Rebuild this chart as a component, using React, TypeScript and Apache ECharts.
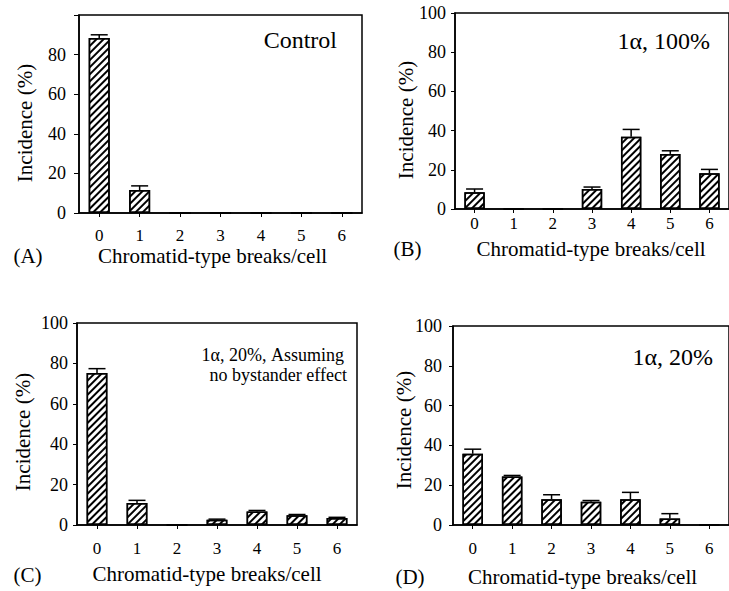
import React, { useEffect, useRef } from "react";
import * as echarts from "echarts";

const CATEGORIES = ["0", "1", "2", "3", "4", "5", "6"];
const Y_TICKS_MAX = 100;

// Panel A: Control
const A_VALUES = [88.4, 11.6, 0, 0, 0, 0, 0];
const A_ERR = [1.6, 2.1, 0, 0, 0, 0, 0];
// Panel B: 1α, 100%
const B_VALUES = [8.5, 0, 0, 10.2, 36.9, 28.1, 18.2];
const B_ERR = [1.7, 0, 0, 1.0, 3.7, 1.6, 2.0];
// Panel C: 1α, 20%, assuming no bystander effect
const C_VALUES = [75.2, 10.9, 0, 2.6, 6.7, 4.8, 3.5];
const C_ERR = [2.2, 1.3, 0, 0.3, 0.5, 0.4, 0.3];
// Panel D: 1α, 20%
const D_VALUES = [35.8, 24.4, 13.0, 11.7, 13.0, 3.3, 0];
const D_ERR = [2.3, 0.5, 2.2, 0.6, 3.4, 2.4, 0];

const X_TITLE = "Chromatid-type breaks/cell";
const Y_TITLE = "Incidence (%)";

const FONT = "Liberation Serif";

const PANELS = [
  {
    values: A_VALUES, err: A_ERR, hide100: true,
    grid: { left: 79, top: 15, width: 283, height: 198 },
    yMargin: 13, xMargin: 14, tickLen: 5,
  },
  {
    values: B_VALUES, err: B_ERR, hide100: false,
    grid: { left: 455, top: 13, width: 281, height: 196 },
    yMargin: 9, xMargin: 6, tickLen: 4,
  },
  {
    values: C_VALUES, err: C_ERR, hide100: false,
    grid: { left: 77, top: 323, width: 280, height: 202 },
    yMargin: 9, xMargin: 15, tickLen: 4,
  },
  {
    values: D_VALUES, err: D_ERR, hide100: false,
    grid: { left: 453, top: 326, width: 286, height: 199 },
    yMargin: 11, xMargin: 15, tickLen: 4,
  },
];

function txt(text: string, x: number, y: number, size: number, align = "center", rotation = 0) {
  return {
    type: "text",
    x,
    y,
    rotation,
    style: {
      text,
      fill: "#000",
      fontFamily: FONT,
      fontSize: size,
      textAlign: align,
      textVerticalAlign: "middle",
    },
  };
}

export default function App() {
  const ref = useRef<HTMLDivElement>(null);
  useEffect(() => {
    if (!ref.current) return;
    const chart = echarts.init(ref.current, null, { renderer: "svg" });

    const grids: any[] = [];
    const xAxes: any[] = [];
    const yAxes: any[] = [];
    const series: any[] = [];

    PANELS.forEach((p, i) => {
      grids.push({
        ...p.grid,
        show: true,
        borderColor: "#000",
        borderWidth: 1.5,
        backgroundColor: "transparent",
        containLabel: false,
      });
      xAxes.push({
        type: "category",
        gridIndex: i,
        data: CATEGORIES,
        axisLine: { show: true, lineStyle: { color: "#000", width: 1.5 } },
        axisTick: { show: true, alignWithLabel: true, length: 4, lineStyle: { color: "#000", width: 1 } },
        axisLabel: { color: "#000", fontFamily: FONT, fontSize: 17, margin: p.xMargin },
        splitLine: { show: false },
      });
      yAxes.push({
        type: "value",
        gridIndex: i,
        min: 0,
        max: Y_TICKS_MAX,
        interval: 20,
        axisLine: { show: true, lineStyle: { color: "#000", width: 1.5 } },
        axisTick: { show: true, length: p.tickLen, lineStyle: { color: "#000", width: 1 } },
        axisLabel: {
          color: "#000",
          fontFamily: FONT,
          fontSize: 18,
          margin: p.yMargin,
          formatter: (v: number) => (p.hide100 && v === 100 ? "" : String(v)),
        },
        splitLine: { show: false },
      });
      series.push({
        type: "bar",
        xAxisIndex: i,
        yAxisIndex: i,
        data: p.values,
        barWidth: "52%",
        itemStyle: {
          color: "#fff",
          borderColor: "#000",
          borderWidth: 1.5,
          decal: {
            symbol: "rect",
            symbolSize: 1,
            color: "#000",
            dashArrayX: [1, 0],
            dashArrayY: [1.1, 2.5],
            rotation: -Math.PI / 4,
          },
        },
        silent: true,
      });
      const errData = p.values
        .map((v, k) => [k, v, v + p.err[k]])
        .filter((d) => d[2] > d[1]);
      series.push({
        type: "custom",
        xAxisIndex: i,
        yAxisIndex: i,
        data: errData,
        z: 5,
        silent: true,
        renderItem: (params: any, api: any) => {
          const x = api.value(0);
          const lo = api.coord([x, api.value(1)]);
          const hi = api.coord([x, api.value(2)]);
          const half = 8.5;
          return {
            type: "group",
            children: [
              {
                type: "line",
                shape: { x1: lo[0], y1: lo[1], x2: hi[0], y2: hi[1] },
                style: { stroke: "#000", lineWidth: 1.5 },
              },
              {
                type: "line",
                shape: { x1: hi[0] - half, y1: hi[1], x2: hi[0] + half, y2: hi[1] },
                style: { stroke: "#000", lineWidth: 1.5 },
              },
            ],
          };
        },
      });
    });

    const graphics: any[] = [
      // panel titles
      txt("Control", 337, 40, 24, "right"),
      txt("1α, 100%", 710, 41, 24, "right"),
      txt("1α, 20%, Assuming", 344, 355, 18, "right"),
      txt("no bystander effect", 347, 375, 18, "right"),
      txt("1α, 20%", 713, 357, 24, "right"),
      // x titles
      txt(X_TITLE, 212.5, 256, 21),
      txt(X_TITLE, 591, 249, 21),
      txt(X_TITLE, 207, 574, 21),
      txt(X_TITLE, 582.5, 577, 21),
      // panel letters
      txt("(A)", 28, 256, 21),
      txt("(B)", 407.5, 249, 21),
      txt("(C)", 27.5, 575, 21),
      txt("(D)", 410, 577, 21),
      // y titles
      txt(Y_TITLE, 25, 123, 21, "center", Math.PI / 2),
      txt(Y_TITLE, 406, 120, 21, "center", Math.PI / 2),
      txt(Y_TITLE, 22.5, 432, 21, "center", Math.PI / 2),
      txt(Y_TITLE, 404, 430, 21, "center", Math.PI / 2),
    ];

    chart.setOption({
      animation: false,
      backgroundColor: "#fff",
      grid: grids,
      xAxis: xAxes,
      yAxis: yAxes,
      series,
      graphic: graphics,
    });
    return () => chart.dispose();
  }, []);
  return (
    <div
      ref={ref}
      style={{ position: "fixed", left: 0, top: 0, width: 729, height: 591 }}
    />
  );
}
